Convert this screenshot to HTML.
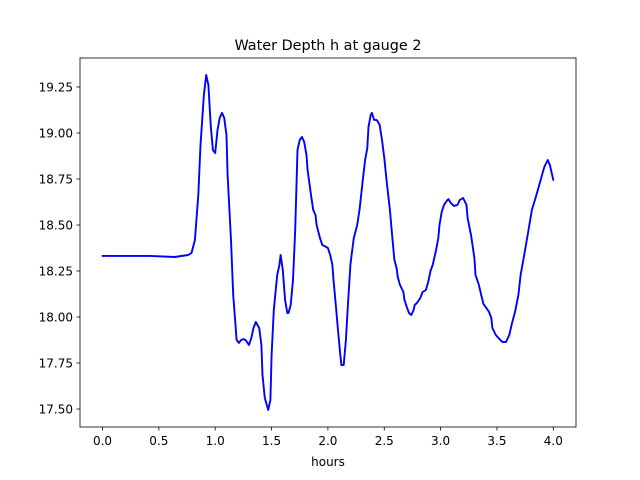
<!DOCTYPE html>
<html><head><meta charset="utf-8"><style>
body{margin:0;background:#fff}
svg{display:block;font-family:"DejaVu Sans","Liberation Sans",sans-serif}
</style></head><body>
<svg id="chart" width="640" height="480" xmlns="http://www.w3.org/2000/svg">
<rect width="640" height="480" fill="#fff"/>
<text x="328" y="50" font-size="14.4" text-anchor="middle">Water Depth h at gauge 2</text>
<text x="328" y="466" font-size="12" text-anchor="middle">hours</text>
<g id="ticks"></g>
<path id="line" fill="none" stroke="#0000ff" stroke-width="1.9" stroke-linejoin="round" stroke-linecap="round"/>
<rect x="80" y="58" width="496" height="369" fill="none" stroke="#000" stroke-width="0.8"/>
</svg>
<script>
const hours=[0,0.42,0.64,0.76,0.79,0.82,0.85,0.87,0.90,0.92,0.94,0.96,0.98,1.00,1.02,1.04,1.06,1.08,1.10,1.11,1.14,1.16,1.18,1.19,1.21,1.23,1.25,1.27,1.30,1.32,1.34,1.36,1.39,1.41,1.42,1.44,1.47,1.49,1.50,1.52,1.55,1.57,1.58,1.60,1.62,1.64,1.65,1.67,1.69,1.71,1.73,1.75,1.77,1.79,1.81,1.82,1.85,1.87,1.89,1.90,1.93,1.95,1.97,2.00,2.02,2.04,2.05,2.07,2.09,2.11,2.12,2.14,2.16,2.18,2.20,2.21,2.23,2.26,2.28,2.29,2.31,2.33,2.35,2.36,2.38,2.39,2.41,2.43,2.44,2.46,2.48,2.50,2.52,2.55,2.57,2.59,2.61,2.62,2.64,2.67,2.68,2.70,2.72,2.74,2.76,2.77,2.79,2.82,2.84,2.87,2.89,2.91,2.93,2.96,2.98,2.99,3.01,3.03,3.06,3.07,3.09,3.12,3.15,3.17,3.20,3.23,3.24,3.27,3.30,3.31,3.34,3.36,3.38,3.40,3.43,3.45,3.46,3.49,3.53,3.55,3.58,3.61,3.63,3.66,3.69,3.71,3.75,3.78,3.81,3.85,3.88,3.92,3.95,3.97,4.00];
const depth=[18.332,18.332,18.326,18.337,18.348,18.418,18.663,18.935,19.207,19.315,19.261,19.043,18.908,18.891,19.016,19.082,19.109,19.082,18.989,18.772,18.418,18.120,17.957,17.875,17.859,17.875,17.880,17.875,17.848,17.886,17.940,17.973,17.940,17.848,17.685,17.560,17.495,17.549,17.793,18.038,18.228,18.283,18.337,18.255,18.092,18.022,18.022,18.065,18.201,18.473,18.908,18.962,18.978,18.951,18.880,18.799,18.663,18.582,18.554,18.500,18.429,18.391,18.386,18.375,18.337,18.283,18.201,18.065,17.929,17.793,17.739,17.739,17.875,18.092,18.283,18.337,18.429,18.500,18.582,18.636,18.745,18.853,18.918,19.033,19.098,19.109,19.071,19.071,19.065,19.043,18.962,18.864,18.745,18.582,18.446,18.310,18.266,18.217,18.174,18.136,18.092,18.054,18.022,18.011,18.038,18.065,18.076,18.103,18.136,18.147,18.190,18.250,18.283,18.364,18.429,18.500,18.571,18.609,18.636,18.641,18.620,18.603,18.609,18.636,18.647,18.609,18.538,18.446,18.321,18.228,18.174,18.120,18.071,18.054,18.027,17.995,17.940,17.902,17.875,17.864,17.864,17.902,17.957,18.027,18.120,18.228,18.364,18.473,18.582,18.663,18.728,18.815,18.853,18.826,18.745];
const xTicks=[0,0.5,1,1.5,2,2.5,3,3.5,4];
const xTickLabels=["0.0","0.5","1.0","1.5","2.0","2.5","3.0","3.5","4.0"];
const yTicks=[17.5,17.75,18,18.25,18.5,18.75,19,19.25];
const yTickLabels=["17.50","17.75","18.00","18.25","18.50","18.75","19.00","19.25"];
const X=t=>102.5+t*112.7;
const Y=v=>409-(v-17.5)*184;
const NS="http://www.w3.org/2000/svg";
const g=document.getElementById('ticks');
function mk(tag,attrs){const e=document.createElementNS(NS,tag);for(const k in attrs)e.setAttribute(k,attrs[k]);g.appendChild(e);return e;}
xTicks.forEach((t,i)=>{
 const l=mk('line',{x1:X(t),x2:X(t),y1:427,y2:430.5,stroke:'#000','stroke-width':0.8});
 
 
 const tx=mk('text',{x:X(t),y:445,'font-size':12,'text-anchor':'middle'});
 tx.textContent=xTickLabels[i];
 
 
});
yTicks.forEach((v,i)=>{
 const l=mk('line',{x1:76.5,x2:80,y1:Y(v),y2:Y(v),stroke:'#000','stroke-width':0.8});
 
 
 const tx=mk('text',{x:73,y:Y(v)+4.5,'font-size':12,'text-anchor':'end'});
 tx.textContent=yTickLabels[i];
 
 
});
document.getElementById('line').setAttribute('d',hours.map((t,i)=>(i?'L':'M')+X(t).toFixed(1)+','+Y(depth[i]).toFixed(1)).join(''));
</script>
</body></html>
